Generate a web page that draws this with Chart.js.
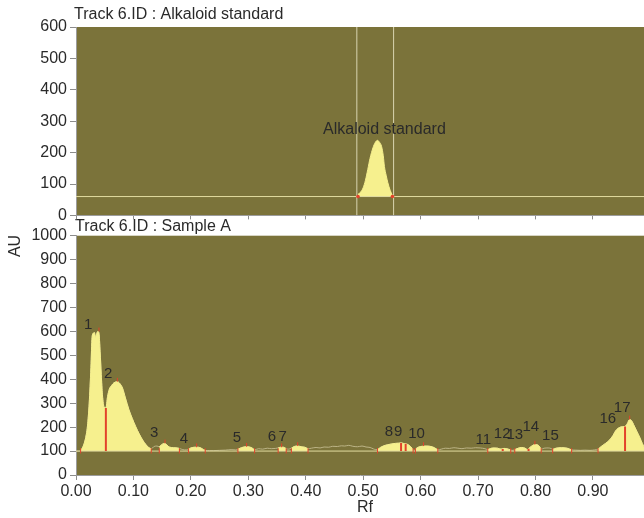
<!DOCTYPE html>
<html>
<head>
<meta charset="utf-8">
<script src="https://cdn.jsdelivr.net/npm/chart.js@4.4.0/dist/chart.umd.min.js"></script>
<style>
  body { margin: 0; background: #fff; }
  #wrap { position: relative; width: 644px; height: 518px; overflow: hidden; }
  canvas { position: absolute; left: 0; }
  #topChart { top: 0; }
  #bottomChart { top: 218px; }
</style>
</head>
<body>
<div id="wrap">
  <canvas id="bottomChart" width="644" height="300"></canvas>
  <canvas id="topChart" width="644" height="228"></canvas>
</div>
<script>
// ---- data ----
const rfMax = 0.989;

// Track 6.ID : Alkaloid standard
const stdRf = [0.000, 0.491, 0.496, 0.500, 0.504, 0.508, 0.512, 0.517, 0.521, 0.525,
               0.528, 0.532, 0.535, 0.537, 0.540, 0.543, 0.547, 0.551, 0.989];
const stdAu = [60, 67, 75, 88, 112, 146, 182, 215, 232, 239,
               234, 220, 190, 156, 128, 104, 80, 63, 60];
const stdBaseline = 60;
const stdPeakStart = [0.491];
const stdPeakEnd = [0.551];
const stdWindow = [0.489, 0.553];
const stdLabel = { text: 'Alkaloid standard', rf: 0.537, au: 273 };

// Track 6.ID : Sample A
const sampleRf = [
  0.000, 0.004, 0.008, 0.014, 0.018, 0.020, 0.023, 0.026, 0.028, 0.030, 0.032, 0.034, 0.036, 0.038, 0.040,
  0.042, 0.044, 0.046, 0.049, 0.052, 0.055, 0.058, 0.062, 0.066, 0.072, 0.076, 0.081, 0.086, 0.092, 0.098,
  0.104, 0.110, 0.116, 0.122, 0.127, 0.131, 0.136, 0.141, 0.145, 0.148, 0.152, 0.155, 0.158, 0.162, 0.170,
  0.176, 0.180, 0.186, 0.192, 0.196, 0.200, 0.207, 0.213, 0.218, 0.222, 0.225, 0.232, 0.240, 0.250, 0.260,
  0.270, 0.278, 0.282, 0.288, 0.296, 0.302, 0.307, 0.311, 0.318, 0.325, 0.333, 0.340, 0.347, 0.352, 0.356,
  0.361, 0.366, 0.370, 0.375, 0.380, 0.386, 0.392, 0.398, 0.404, 0.410, 0.418, 0.425, 0.432, 0.440, 0.447,
  0.455, 0.462, 0.468, 0.475, 0.482, 0.490, 0.498, 0.505, 0.512, 0.518, 0.522, 0.525, 0.530, 0.535, 0.542,
  0.550, 0.556, 0.562, 0.566, 0.570, 0.575, 0.580, 0.585, 0.587, 0.589, 0.591, 0.596, 0.603, 0.610, 0.618,
  0.624, 0.630, 0.636, 0.643, 0.650, 0.658, 0.665, 0.672, 0.680, 0.688, 0.696, 0.704, 0.712, 0.717, 0.722,
  0.728, 0.734, 0.740, 0.745, 0.750, 0.757, 0.760, 0.764, 0.770, 0.776, 0.782, 0.786, 0.788, 0.793, 0.799,
  0.805, 0.810, 0.815, 0.822, 0.828, 0.830, 0.836, 0.845, 0.855, 0.863, 0.870, 0.878, 0.886, 0.895, 0.903,
  0.909, 0.915, 0.922, 0.929, 0.935, 0.940, 0.946, 0.952, 0.956, 0.960, 0.964, 0.967, 0.972, 0.977, 0.982,
  0.986, 0.989
];
const sampleAu = [
  100, 100, 101, 130, 170, 205, 300, 450, 575, 592, 595, 575, 590, 600, 592,
  515, 420, 335, 283, 280, 328, 358, 374, 385, 390, 383, 363, 322, 274, 236,
  202, 172, 146, 126, 114, 110, 119, 121, 118, 124, 131, 132, 126, 117, 114,
  113, 111, 106, 105, 108, 113, 116, 116, 112, 106, 103, 102, 102, 103, 104,
  106, 105, 108, 114, 118, 117, 112, 105, 110, 108, 112, 110, 111, 113, 116,
  116, 110, 108, 112, 119, 121, 118, 116, 110, 112, 115, 113, 117, 116, 120,
  119, 122, 121, 124, 120, 118, 121, 117, 115, 109, 106, 106, 115, 121, 126,
  130, 132, 133, 134, 132, 130, 124, 112, 104, 102, 108, 116, 120, 121, 119,
  114, 105, 108, 112, 111, 114, 112, 110, 113, 112, 114, 113, 110, 106, 111,
  113, 112, 108, 111, 110, 104, 103, 106, 112, 115, 112, 106, 110, 120, 127,
  124, 108, 112, 113, 110, 107, 112, 114, 112, 105, 104, 103, 104, 103, 105,
  108, 120, 132, 146, 165, 186, 198, 202, 203, 215, 232, 228, 205, 180, 155,
  132, 118
];
const sampleBaseline = 100;
const peakStart = [0.008, 0.145, 0.196, 0.282, 0.352, 0.375, 0.525, 0.591, 0.717, 0.764, 0.830, 0.909];
const peakEnd   = [0.131, 0.180, 0.225, 0.311, 0.366, 0.404, 0.587, 0.630, 0.757, 0.810, 0.863, 0.989];
const splitRf = [0.052, 0.566, 0.574, 0.743, 0.788, 0.956];
const splitAu = [280, 134, 131, 109, 110, 203];
const markRf = [0.008, 0.131, 0.145, 0.180, 0.196, 0.225, 0.282, 0.311, 0.352, 0.366, 0.375, 0.404,
                0.525, 0.587, 0.591, 0.630, 0.717, 0.757, 0.764, 0.810, 0.830, 0.863, 0.909];
const topRf = [0.040, 0.072, 0.155, 0.210, 0.297, 0.358, 0.386, 0.605, 0.799, 0.964];
const topAu = [600, 390, 132, 116, 118, 116, 121, 121, 127, 232];
const peakNames = ['1', '2', '3', '4', '5', '6', '7', '8', '9', '10', '11', '12', '13', '14', '15', '16', '17'];
const labelRf = [0.021, 0.056, 0.136, 0.188, 0.280, 0.341, 0.360, 0.545, 0.561, 0.593,
                 0.709, 0.742, 0.764, 0.792, 0.826, 0.926, 0.951];
const labelAu = [628, 423, 176, 149, 154, 160, 160, 181, 181, 173,
                 146, 174, 169, 200, 163, 233, 279];

// ---- style ----
const olive = '#7b733a';
const fillYellow = '#f6f08e';
const traceColor = '#bcb486';
const baseColor = '#e2dca0';
const red = '#e2432b';
const fontFamily = "'Liberation Sans', Arial, sans-serif";
const textColor = '#2a2a2a';

function inPeak(x, starts, ends) {
  return starts.some((s, i) => x >= s - 1e-9 && x <= ends[i] + 1e-9);
}

function toPoints(xs, ys) {
  return xs.map((x, i) => ({ x: x, y: ys[i] }));
}

// vertical strokes: from y0 (number or array) to y1 (number or array), separated by gaps
function verticals(xs, y0, y1) {
  const pts = [];
  xs.forEach((x, i) => {
    const a = Array.isArray(y0) ? y0[i] : y0;
    const b = Array.isArray(y1) ? y1[i] : y1;
    pts.push({ x: x, y: a }, { x: x, y: b }, { x: x, y: null });
  });
  return pts;
}

const plotBg = {
  id: 'plotBg',
  beforeDraw(chart) {
    const a = chart.chartArea, ctx = chart.ctx;
    ctx.save();
    ctx.fillStyle = olive;
    ctx.fillRect(a.left, a.top, a.right - a.left, a.bottom - a.top);
    ctx.restore();
  }
};

function axes(yMax, showX, xHeight) {
  return {
    x: {
      type: 'linear', min: 0, max: rfMax,
      afterFit: s => { s.height = xHeight; s.paddingLeft = 0; s.paddingRight = 0; },
      ticks: {
        stepSize: 0.1, includeBounds: false, display: showX, autoSkip: false, maxRotation: 0,
        callback: v => v.toFixed(2),
        font: { family: fontFamily, size: 16 }, color: textColor, padding: 2
      },
      grid: { drawOnChartArea: false, tickLength: showX ? 5 : 4, color: '#8c8c8c' },
      border: { color: '#9c9c9c' }
    },
    y: {
      min: 0, max: yMax,
      afterFit: s => { s.width = 76; },
      ticks: {
        stepSize: 100, callback: v => String(v),
        font: { family: fontFamily, size: 16 }, color: textColor, padding: 3
      },
      grid: { drawOnChartArea: false, tickLength: 6, color: '#8c8c8c' },
      border: { color: '#9c9c9c' }
    }
  };
}

const lineBase = { pointRadius: 0, pointHoverRadius: 0, tension: 0, borderWidth: 1, fill: false };

// ---- top chart: standard ----
const stdTexts = {
  id: 'stdTexts',
  afterDraw(chart) {
    const ctx = chart.ctx, xs = chart.scales.x, ys = chart.scales.y;
    ctx.save();
    ctx.fillStyle = textColor;
    ctx.font = '16px ' + fontFamily;
    ctx.textBaseline = 'middle';
    ctx.textAlign = 'left';
    ctx.fillText('Track 6.ID : Alkaloid standard', 74, 15);
    ctx.textAlign = 'center';
    ctx.fillText(stdLabel.text, xs.getPixelForValue(stdLabel.rf), ys.getPixelForValue(stdLabel.au));
    ctx.restore();
  }
};

new Chart(document.getElementById('topChart'), {
  type: 'line',
  data: {
    datasets: [
      Object.assign({}, lineBase, {
        data: [{ x: 0, y: stdBaseline }, { x: rfMax, y: stdBaseline }],
        borderColor: baseColor, order: 1
      }),
      Object.assign({}, lineBase, {
        data: verticals(stdWindow, 0, 600),
        borderColor: '#d9d4b0', order: 1
      }),
      Object.assign({}, lineBase, {
        data: stdRf.map((x, i) => ({ x: x, y: inPeak(x, stdPeakStart, stdPeakEnd) ? stdAu[i] : null })),
        borderColor: fillYellow, backgroundColor: fillYellow,
        fill: { value: stdBaseline }, cubicInterpolationMode: 'monotone', order: 2
      }),
      Object.assign({}, lineBase, {
        data: [stdPeakStart[0], stdPeakEnd[0]].map(x => ({ x: x, y: stdBaseline })),
        showLine: false, pointRadius: 1.8, pointBackgroundColor: red, pointBorderWidth: 0, order: 0
      })
    ]
  },
  options: {
    responsive: false, animation: false, devicePixelRatio: 1,
    layout: { autoPadding: false, padding: { top: 27, right: 0, left: 0, bottom: 0 } },
    plugins: { legend: { display: false }, tooltip: { enabled: false } },
    scales: axes(600, false, 12)
  },
  plugins: [plotBg, stdTexts]
});

// ---- bottom chart: sample ----
const sampleTexts = {
  id: 'sampleTexts',
  afterDraw(chart) {
    const ctx = chart.ctx, xs = chart.scales.x, ys = chart.scales.y;
    ctx.save();
    ctx.fillStyle = textColor;
    ctx.font = '16px ' + fontFamily;
    ctx.textBaseline = 'middle';
    ctx.textAlign = 'left';
    ctx.fillText('Track 6.ID : Sample A', 75, 9);
    ctx.textAlign = 'center';
    ctx.fillText('Rf', 365, 290);
    ctx.save();
    ctx.translate(16, 28);
    ctx.rotate(-Math.PI / 2);
    ctx.fillText('AU', 0, 0);
    ctx.restore();
    ctx.font = '15px ' + fontFamily;
    peakNames.forEach((n, i) => {
      ctx.fillText(n, xs.getPixelForValue(labelRf[i]), ys.getPixelForValue(labelAu[i]));
    });
    ctx.restore();
  }
};

new Chart(document.getElementById('bottomChart'), {
  type: 'line',
  data: {
    datasets: [
      Object.assign({}, lineBase, {
        data: verticals(splitRf, sampleBaseline, splitAu),
        borderColor: red, borderWidth: 2, order: 0
      }),
      Object.assign({}, lineBase, {
        data: verticals(markRf, 90, 112),
        borderColor: red, order: 0
      }),
      Object.assign({}, lineBase, {
        data: verticals(topRf, topAu, topAu.map(v => v + 16)),
        borderColor: red, order: 0
      }),
      Object.assign({}, lineBase, {
        data: [{ x: 0, y: sampleBaseline }, { x: rfMax, y: sampleBaseline }],
        borderColor: baseColor, order: 1
      }),
      Object.assign({}, lineBase, {
        data: sampleRf.map((x, i) => ({ x: x, y: inPeak(x, peakStart, peakEnd) ? sampleAu[i] : null })),
        borderColor: fillYellow, backgroundColor: fillYellow,
        fill: { value: sampleBaseline }, cubicInterpolationMode: 'monotone', order: 2
      }),
      Object.assign({}, lineBase, {
        data: toPoints(sampleRf, sampleAu),
        borderColor: traceColor, cubicInterpolationMode: 'monotone', order: 3
      })
    ]
  },
  options: {
    responsive: false, animation: false, devicePixelRatio: 1,
    layout: { autoPadding: false, padding: { top: 17.7, right: 0, left: 0, bottom: 0 } },
    plugins: { legend: { display: false }, tooltip: { enabled: false } },
    scales: axes(1000, true, 43)
  },
  plugins: [plotBg, sampleTexts]
});
</script>
</body>
</html>
